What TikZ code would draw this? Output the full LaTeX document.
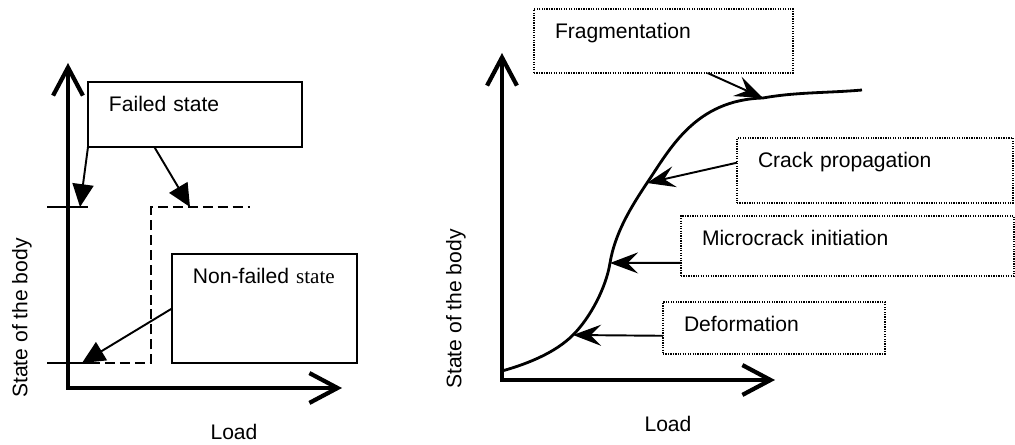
\documentclass[tikz,border=0pt]{standalone}
\usepackage{fontspec}
\setmainfont{Liberation Sans}
\newfontfamily\serifpart{Liberation Serif}
\usetikzlibrary{arrows.meta, calc}

\tikzset{
  axis/.style={line width=2.4pt,
    {Straight Barb[length=16pt,width=17pt]}-{Straight Barb[length=16pt,width=17pt]}},
  thinline/.style={line width=1.1pt},
  stepline/.style={line width=1.1pt, dash pattern=on 5.7pt off 2.8pt},
  statebox/.style={draw, line width=1.1pt, anchor=north west, inner xsep=0.42cm,
    inner ysep=0pt, outer sep=0pt, text height=0.6cm, align=left},
  stagebox/.style={statebox, line width=0.8pt, dash pattern=on 0.7pt off 0.7pt},
  filled/.style={line width=1.1pt, -{Triangle[length=13pt,width=12pt]}},
  stealthy/.style={line width=1.1pt, -{Stealth[length=16pt,width=12pt,inset=6pt]}},
  curve/.style={line width=1.6pt}
}

\begin{document}
\begin{tikzpicture}[x=0.02cm, y=-0.02cm, font=\fontsize{12}{14}\selectfont]
  \useasboundingbox (0,0) rectangle (1015,445);

  % ---- two-state picture (left) ----
  \coordinate (oA) at (68,388);
  \coordinate (yA) at (68,63);
  \coordinate (xA) at (342,388);
  \draw[axis] (yA) -- (oA) -- (xA);

  % levels on the vertical axis
  \coordinate (ftick) at (80,207);
  \coordinate (nstep) at (82,363);
  \coordinate (fstep) at (190,207);
  \draw[thinline] (47,207) -- (88,207);
  \draw[thinline] (47,363) -- (90,363);
  \draw[stepline] (90,363) -- (151,363) -- (151,207) -- (250,207);

  \node[statebox, text width=3.44cm, text depth=0.7cm] (failed) at (88,82) {Failed state};
  \node[statebox, text width=2.86cm, text depth=1.58cm] (nonfailed) at (172,254)
    {\mbox{Non-failed {\serifpart state}}};

  \draw[filled] (failed.south west) -- (ftick);
  \draw[filled] ($(failed.south west)!0.31!(failed.south east)$) -- (fstep);
  \draw[filled] (nonfailed.west) -- (nstep);

  \node[rotate=90] (ylabA) at (22,318) {State of the body};
  \node (xlabA) at (234,432) {Load};

  % ---- damage stages (right) ----
  \coordinate (oB) at (502,380);
  \coordinate (yB) at (502,53);
  \coordinate (xB) at (775,380);
  \draw[axis] (yB) -- (oB) -- (xB);

  \coordinate (c0) at (502,371);
  \coordinate (pdef) at (573,335);
  \coordinate (pmicro) at (610,263);
  \coordinate (pcrack) at (647,183);
  \coordinate (pfrag) at (763,98);
  \coordinate (c1) at (862,90);
  \draw[curve] (c0) .. controls (527,364) and (555,353) .. (pdef)
    .. controls (590,318) and (606,288) .. (pmicro)
    .. controls (615,233) and (631,207) .. (pcrack)
    .. controls (670,149) and (695,100) .. (pfrag)
    .. controls (796,92) and (829,93) .. (c1);

  \node[stagebox, text width=4.34cm, text depth=0.68cm] (frag) at (534,9) {Fragmentation};
  \node[stagebox, text width=4.68cm, text depth=0.70cm] (crack) at (737,138) {Crack propagation};
  \node[stagebox, text width=5.82cm, text depth=0.60cm] (micro) at (681,216) {Microcrack initiation};
  \node[stagebox, text width=3.60cm, text depth=0.44cm] (deform) at (663,302) {Deformation};

  \draw[stealthy] ($(frag.south west)!0.67!(frag.south east)$) -- (pfrag);
  \draw[stealthy] ($(crack.north west)!0.38!(crack.south west)$) -- (pcrack);
  \draw[stealthy] ($(micro.north west)!0.78!(micro.south west)$) -- (pmicro);
  \draw[stealthy] ($(deform.north west)!0.65!(deform.south west)$) -- (pdef);

  \node[rotate=90] (ylabB) at (456,309) {State of the body};
  \node (xlabB) at (668,424) {Load};
\end{tikzpicture}
\end{document}
